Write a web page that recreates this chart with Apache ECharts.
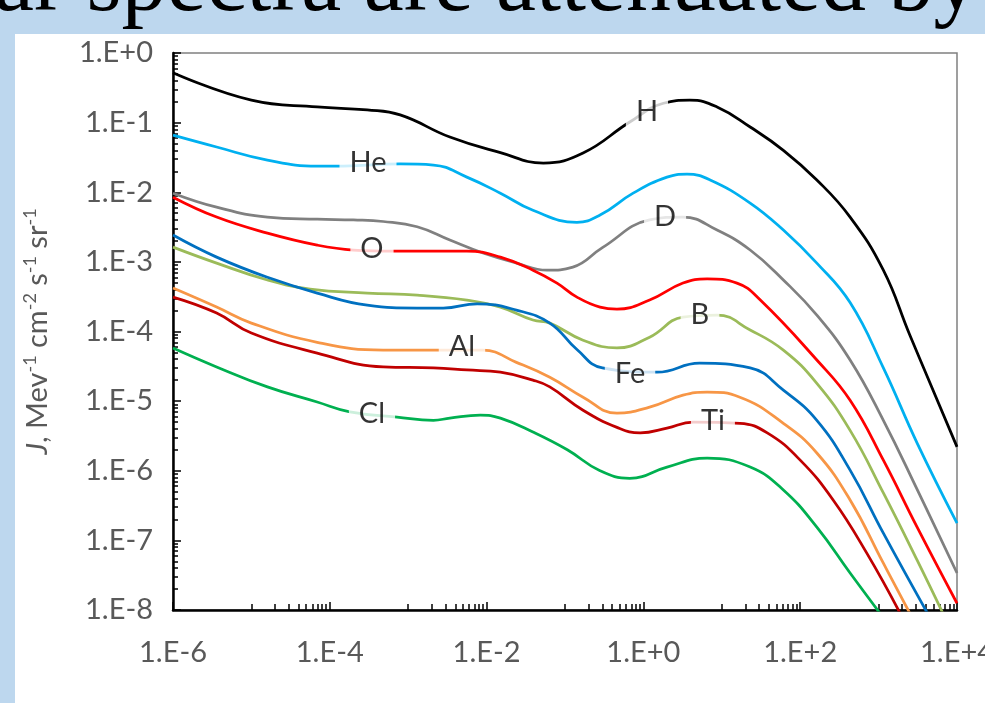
<!DOCTYPE html>
<html><head><meta charset="utf-8">
<script src="https://cdn.jsdelivr.net/npm/echarts@6/dist/echarts.min.js"></script>
<style>html,body{margin:0;padding:0;background:#BDD7EE;overflow:hidden}#c{width:985px;height:703px;}</style>
</head><body><div id="c"></div>
<script>
// ---- axis ticks / labels ----
const xLabelValues = [1e-6, 1e-4, 1e-2, 1, 1e2, 1e4];
const yLabelValues = [1e-8, 1e-7, 1e-6, 1e-5, 1e-4, 1e-3, 1e-2, 1e-1, 1];
const xMinorDecades = [-5, -3, -1, 1, 3];
const yMinorDecades = [-8, -7, -6, -5, -4, -3, -2, -1];

// ---- series data (E in MeV/amu, J) ----
const E_H  = [1e-6, 1e-5, 6.9e-5, 3.0e-4, 7.9e-4, 3.4e-3, 1.5e-2, 5.3e-2, 0.17, 0.67, 1.8, 3.9, 8.7, 23, 61, 163, 433, 1150, 2500, 1e4];
const J_H  = [0.52, 0.21, 0.168, 0.152, 0.129, 0.062, 0.037, 0.0263, 0.0366, 0.102, 0.19, 0.21, 0.168, 0.0865, 0.040, 0.015, 0.0044, 7.6e-4, 8.9e-5, 2.2e-6];

const E_He = [1e-6, 3.6e-6, 1.6e-5, 6.9e-5, 1.5e-4, 7.9e-4, 2.1e-3, 5.6e-3, 1.5e-2, 3.9e-2, 0.142, 0.28, 0.74, 2.0, 3.6, 7.1, 23, 61, 163, 433, 1150, 3100, 1e4];
const J_He = [0.066, 0.0446, 0.029, 0.0238, 0.0238, 0.0255, 0.0246, 0.0165, 0.0097, 0.0055, 0.0037, 0.0047, 0.0097, 0.0165, 0.0182, 0.015, 0.0070, 0.00286, 9.6e-4, 2.6e-4, 3.0e-5, 2.5e-6, 1.77e-7];

const E_D  = [1e-6, 3.6e-6, 1.6e-5, 6.9e-5, 2.0e-4, 4.8e-4, 1.3e-3, 3.4e-3, 9.0e-3, 2.4e-2, 5.9e-2, 0.126, 0.30, 1.2, 3.2, 8.7, 23, 61, 163, 433, 1150, 3100, 1e4];
const J_D  = [0.0097, 0.0061, 0.0044, 0.0041, 0.0040, 0.0038, 0.0032, 0.00206, 0.00134, 9.6e-4, 7.6e-4, 8.4e-4, 0.0016, 0.0040, 0.0044, 0.00286, 0.00148, 5.5e-4, 1.72e-4, 3.9e-5, 5.3e-6, 5.4e-7, 3.4e-8];

const E_O  = [1e-6, 3.6e-6, 1.6e-5, 6.9e-5, 2.0e-4, 6.4e-4, 2.1e-3, 5.6e-3, 1.5e-2, 3.9e-2, 7.9e-2, 0.142, 0.28, 0.46, 1.2, 3.2, 6.5, 15.6, 31, 163, 433, 1150, 3100, 1e4];
const J_O  = [0.0085, 0.0044, 0.00259, 0.00174, 0.00148, 0.00143, 0.00143, 0.00143, 0.00117, 7.6e-4, 4.96e-4, 3.12e-4, 2.24e-4, 2.1e-4, 2.83e-4, 4.96e-4, 5.7e-4, 4.96e-4, 2.83e-4, 3.9e-5, 1.03e-5, 1.42e-6, 1.55e-7, 1.25e-8];

const E_B  = [1e-6, 3.6e-6, 1.6e-5, 5.6e-5, 3.0e-4, 1.3e-3, 5.6e-3, 1.5e-2, 3.9e-2, 0.064, 0.17, 0.46, 1.2, 3.2, 8.7, 23, 61, 163, 433, 1150, 3100, 6600];
const J_B  = [0.00163, 9.6e-4, 5.5e-4, 4.07e-4, 3.56e-4, 3.33e-4, 2.83e-4, 2.24e-4, 1.46e-4, 1.32e-4, 7.5e-5, 5.8e-5, 8.3e-5, 1.61e-4, 1.72e-4, 1.05e-4, 5.4e-5, 1.8e-5, 3.8e-6, 4.8e-7, 5.2e-8, 9e-9];

const E_Fe = [1e-6, 3.6e-6, 1.6e-5, 6.9e-5, 3.0e-4, 1.3e-3, 2.8e-3, 7.6e-3, 2.4e-2, 0.064, 0.142, 0.30, 1.5, 5.2, 23, 61, 163, 433, 1150, 4200];
const J_Fe = [0.00243, 0.00117, 6.0e-4, 3.56e-4, 2.39e-4, 2.17e-4, 2.17e-4, 2.5e-4, 2.03e-4, 1.32e-4, 5.5e-5, 3.0e-5, 2.6e-5, 3.5e-5, 3.0e-5, 1.44e-5, 5.3e-6, 1.02e-6, 1.27e-7, 9e-9];

const E_Al = [1e-6, 3.6e-6, 1.0e-5, 6.9e-5, 4.8e-4, 2.6e-3, 9.0e-3, 2.4e-2, 0.064, 0.17, 0.46, 1.2, 3.2, 6.5, 17, 61, 163, 433, 1150, 2500];
const J_Al = [4.2e-4, 2.24e-4, 1.32e-4, 7.0e-5, 5.4e-5, 5.4e-5, 5.4e-5, 3.6e-5, 2.2e-5, 1.14e-5, 6.7e-6, 8.2e-6, 1.22e-5, 1.35e-5, 1.14e-5, 4.8e-6, 1.8e-6, 3.8e-7, 4.7e-8, 9e-9];

const E_Ti = [1e-6, 3.6e-6, 1.0e-5, 6.9e-5, 4.8e-4, 2.1e-3, 5.6e-3, 1.5e-2, 3.9e-2, 0.064, 0.17, 0.46, 0.91, 2.0, 4.3, 17, 38, 100, 263, 710, 1880];
const J_Ti = [3.12e-4, 1.84e-4, 9.5e-5, 4.9e-5, 3.1e-5, 3.0e-5, 2.8e-5, 2.6e-5, 2.0e-5, 1.6e-5, 7.4e-6, 4.2e-6, 3.5e-6, 4.1e-6, 5.0e-6, 4.8e-6, 3.5e-6, 1.42e-6, 3.8e-7, 6.5e-8, 9e-9];

const E_Cl = [1e-6, 3.6e-6, 1.6e-5, 6.9e-5, 1.8e-4, 7.2e-4, 2.1e-3, 3.4e-3, 8.3e-3, 1.5e-2, 3.9e-2, 0.107, 0.28, 0.67, 2.0, 6.5, 23, 61, 163, 433, 1040];
const J_Cl = [5.8e-5, 3.1e-5, 1.6e-5, 9.7e-6, 7.0e-6, 5.9e-6, 5.3e-6, 5.7e-6, 6.3e-6, 5.7e-6, 3.6e-6, 2.0e-6, 1.0e-6, 7.8e-7, 1.13e-6, 1.52e-6, 1.13e-6, 5.3e-7, 1.55e-7, 3.4e-8, 9e-9];

// ---- in-line curve labels ----
const labelNames = ['H', 'He', 'D', 'O', 'B', 'Fe', 'Al', 'Ti', 'Cl'];
const labelE = [1.11, 3.07e-4, 1.89, 3.45e-4, 5.27, 0.675, 4.85e-3, 7.7, 3.45e-4];
const labelJ = [0.142, 0.0263, 0.0044, 0.00153, 1.72e-4, 2.52e-5, 5.97e-5, 5.33e-6, 6.7e-6];

const curves = [
  {name: 'H',  E: E_H,  J: J_H,  color: '#000000'},
  {name: 'He', E: E_He, J: J_He, color: '#00B0F0'},
  {name: 'D',  E: E_D,  J: J_D,  color: '#808080'},
  {name: 'O',  E: E_O,  J: J_O,  color: '#FF0000'},
  {name: 'B',  E: E_B,  J: J_B,  color: '#9BBB59'},
  {name: 'Fe', E: E_Fe, J: J_Fe, color: '#0070C0'},
  {name: 'Al', E: E_Al, J: J_Al, color: '#F79646'},
  {name: 'Ti', E: E_Ti, J: J_Ti, color: '#C00000'},
  {name: 'Cl', E: E_Cl, J: J_Cl, color: '#00B050'}
];

const xMinor = [];
xMinorDecades.forEach(n => { for (let k = 1; k <= 10; k++) xMinor.push(k * Math.pow(10, n)); });
const yMinor = [];
yMinorDecades.forEach(n => { for (let k = 2; k <= 9; k++) yMinor.push(k * Math.pow(10, n)); });

function fmt(v) {
  const e = Math.round(Math.log10(v));
  return '1.E' + (e >= 0 ? '+' : '') + e;
}
const FONT = 'Lato';
const tickStyle = {color: '#000', width: 1.5};

const chart = echarts.init(document.getElementById('c'));
const series = curves.map(c => ({
  type: 'line', name: c.name,
  data: c.E.map((e, i) => [e, c.J[i]]),
  symbol: 'none', smooth: 0.45, clip: true, silent: true,
  lineStyle: {width: 2.75, color: c.color}, itemStyle: {color: c.color}, z: 3
}));
series.push({
  type: 'scatter', silent: true, z: 6,
  data: labelNames.map((n, i) => [labelE[i], labelJ[i], n]),
  symbolSize: 1, itemStyle: {color: 'rgba(255,255,255,0)'},
  label: {show: true, position: 'inside', formatter: p => p.data[2],
    backgroundColor: '#ffffff', padding: [0, 10], color: '#000',
    fontFamily: FONT, fontSize: 29, lineHeight: 28}
});

chart.setOption({
  animation: false,
  backgroundColor: '#BDD7EE',
  graphic: [
    {type: 'rect', z: -10, silent: true, shape: {x: 15, y: 34, width: 1000, height: 700}, style: {fill: '#ffffff'}},
    {type: 'text', z: -5, silent: true, x: -6, y: -14,
      style: {text: 'ar spectra are attenuated by', font: '90px "Liberation Serif"', fill: '#000', verticalAlign: 'middle', align: 'left'}}
  ],
  grid: {left: 173, right: 28, top: 53, bottom: 93, show: true, borderColor: '#808080', borderWidth: 1.5, containLabel: false, outerBoundsMode: 'none'},
  xAxis: [
    {type: 'log', logBase: 10, min: 1e-6, max: 1e4, position: 'bottom',
      axisLine: {show: true, onZero: false, lineStyle: {color: '#000', width: 2.5}},
      axisTick: {show: true, inside: true, length: 8, customValues: xLabelValues, lineStyle: tickStyle},
      axisLabel: {customValues: xLabelValues, formatter: fmt, color: '#595959', fontFamily: FONT, fontSize: 29, margin: 28},
      splitLine: {show: false}, minorTick: {show: false}},
    {type: 'log', logBase: 10, min: 1e-6, max: 1e4, position: 'bottom',
      axisLine: {show: false, onZero: false},
      axisTick: {show: true, inside: true, length: 6, customValues: xMinor, lineStyle: tickStyle},
      axisLabel: {show: false}, splitLine: {show: false}}
  ],
  yAxis: [
    {type: 'log', logBase: 10, min: 1e-8, max: 1, position: 'left',
      axisLine: {show: true, onZero: false, lineStyle: {color: '#000', width: 2.5}},
      axisTick: {show: true, inside: true, length: 8, customValues: yLabelValues, lineStyle: tickStyle},
      axisLabel: {customValues: yLabelValues, formatter: fmt, color: '#595959', fontFamily: FONT, fontSize: 29, margin: 20},
      splitLine: {show: false},
      name: '{j|J}{t|, Mev}{s|-1}{t| cm}{s|-2}{t| s}{s|-1}{t| sr}{s|-1}',
      nameLocation: 'middle', nameRotate: 90, nameGap: 118,
      nameTextStyle: {color: '#595959', fontFamily: FONT, fontSize: 29,
        rich: {
          j: {fontStyle: 'italic', fontFamily: FONT, fontSize: 29, color: '#595959', lineHeight: 34},
          t: {fontFamily: FONT, fontSize: 29, color: '#595959', lineHeight: 34},
          s: {fontFamily: FONT, fontSize: 18, color: '#595959', verticalAlign: 'top', lineHeight: 20}
        }}},
    {type: 'log', logBase: 10, min: 1e-8, max: 1, position: 'left',
      axisLine: {show: false, onZero: false},
      axisTick: {show: true, inside: true, length: 5, customValues: yMinor, lineStyle: tickStyle},
      axisLabel: {show: false}, splitLine: {show: false}}
  ],
  series: series
});
</script></body></html>
